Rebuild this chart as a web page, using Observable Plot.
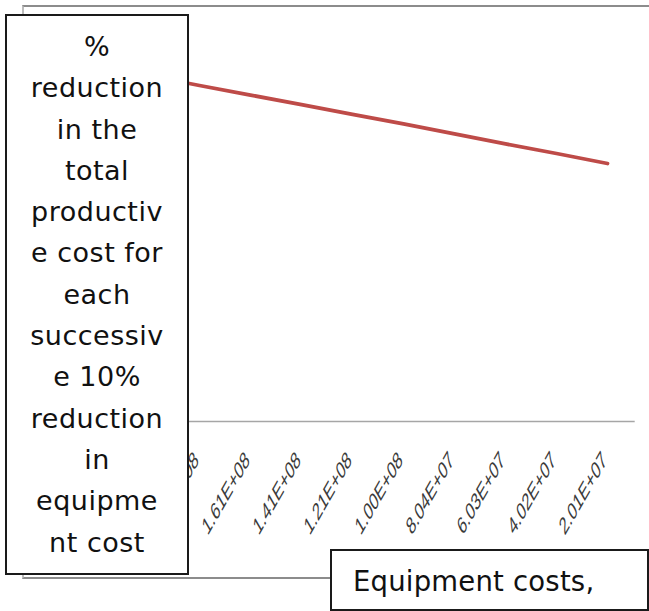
<!DOCTYPE html>
<html>
<head>
<meta charset="utf-8">
<script src="https://cdn.jsdelivr.net/npm/d3@7"></script>
<script src="https://cdn.jsdelivr.net/npm/@observablehq/plot@0.6"></script>
<style>
  html, body { margin: 0; padding: 0; background: #fff; }
  #wrap { position: relative; width: 649px; height: 611px; overflow: hidden; font-family: "DejaVu Sans", sans-serif; }
  #chart { position: absolute; left: 0; top: 0; }
  #frame { position: absolute; left: 22px; top: 5px; width: 660px; height: 570px;
           border-top: 2px solid #8c8c8c; border-left: 2px solid #bdbdbd; border-bottom: 2px solid #8c8c8c; }
  .box { position: absolute; background: #fff; border: 2px solid #1a1a1a; color: #111; box-sizing: border-box; }
  #ybox { left: 5px; top: 14px; width: 184px; height: 561px; text-align: center;
          font-size: 27px; line-height: 41.3px; letter-spacing: 0.5px; padding-top: 10px; }
  #xbox { left: 330px; top: 549px; width: 319px; height: 62px; font-size: 27.5px;
          padding-left: 21px; padding-top: 14px; letter-spacing: 0.2px; }
</style>
</head>
<body>
<div id="wrap">
  <div id="frame"></div>
  <div id="chart"></div>
  <div class="box" id="ybox"></div>
  <div class="box" id="xbox"></div>
</div>
<script>
const categories = ["2.01E+08", "1.81E+08", "1.61E+08", "1.41E+08", "1.21E+08",
                    "1.00E+08", "8.04E+07", "6.03E+07", "4.02E+07", "2.01E+07"];
const reduction = [8.65, 8.40, 8.16, 7.92, 7.68, 7.44, 7.19, 6.94, 6.70, 6.45];
const yTitleLines = ["%", "reduction", "in the", "total", "productiv", "e cost for", "each",
                     "successiv", "e 10%", "reduction", "in", "equipme", "nt cost"];
const xTitle = "Equipment costs,";

const data = categories.map((c, i) => ({ cost: c, value: reduction[i] }));

const chart = Plot.plot({
  width: 649,
  height: 611,
  marginLeft: 120.7,
  marginRight: 14.3,
  marginTop: 21,
  marginBottom: 190,
  style: { background: "transparent", overflow: "visible" },
  x: { type: "point", domain: categories, padding: 0.5, axis: null },
  y: { domain: [0, 10], axis: null },
  marks: [
    Plot.ruleY([0], { stroke: "#a6a6a6", strokeWidth: 1.6 }),
    Plot.line(data, { x: "cost", y: "value", stroke: "#be4b48", strokeWidth: 3.8 }),
    Plot.text(categories, {
      x: d => d, frameAnchor: "bottom", text: d => d,
      textAnchor: "end", rotate: -45, dx: 0, dy: 40,
      fontSize: 14, fontFamily: "Liberation Sans", fill: "#3a3a3a",
      className: "xlabels"
    })
  ]
});
// the reference picture is stretched vertically: tilt the rotated labels the same way
d3.select(chart).selectAll("g.xlabels text").attr("transform", function () {
  const t = this.getAttribute("transform") || "";
  return t.replace(/rotate\(/, "scale(1,1.75) rotate(");
});
document.getElementById("chart").appendChild(chart);

const ybox = d3.select("#ybox");
yTitleLines.forEach(t => ybox.append("div").text(t));
d3.select("#xbox").text(xTitle);
</script>
</body>
</html>
